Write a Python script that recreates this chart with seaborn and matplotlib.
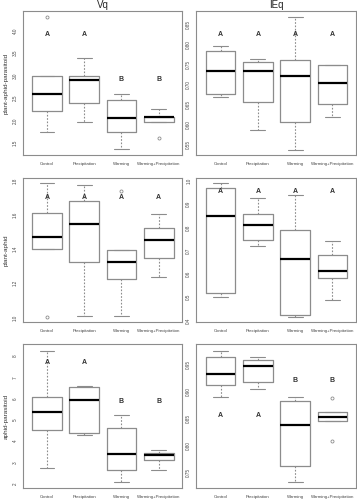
import seaborn as sns
import matplotlib.pyplot as plt
import pandas as pd

# treatment groups
groups = ["Control", "Precipitation", "Warming", "Warming+Precipitation"]

# raw values per group
vq_pap = [
    [1.74, 2.00, 2.21, 2.40, 2.60, 2.85, 3.00, 3.00, 4.30],
    [1.96, 2.20, 2.40, 2.65, 2.90, 2.95, 2.99, 3.20, 3.38],
    [1.37, 1.55, 1.74, 1.90, 2.06, 2.30, 2.46, 2.55, 2.60],
    [1.62, 1.96, 1.96, 2.00, 2.08, 2.08, 2.085, 2.20, 2.25],
]
ieq_pap = [
    [0.668, 0.672, 0.676, 0.700, 0.733, 0.760, 0.783, 0.790, 0.796],
    [0.588, 0.620, 0.656, 0.700, 0.735, 0.745, 0.757, 0.760, 0.764],
    [0.538, 0.570, 0.607, 0.670, 0.722, 0.740, 0.762, 0.820, 0.868],
    [0.619, 0.635, 0.652, 0.680, 0.705, 0.730, 0.749, 0.749, 0.749],
]
vq_pa = [
    [1.000, 1.402, 1.402, 1.440, 1.469, 1.550, 1.614, 1.700, 1.786],
    [1.006, 1.150, 1.322, 1.450, 1.545, 1.620, 1.684, 1.730, 1.773],
    [1.006, 1.120, 1.227, 1.280, 1.322, 1.360, 1.392, 1.392, 1.737],
    [1.237, 1.300, 1.347, 1.400, 1.453, 1.490, 1.524, 1.560, 1.606],
]
ieq_pa = [
    [0.502, 0.510, 0.518, 0.700, 0.850, 0.920, 0.967, 0.980, 0.990],
    [0.718, 0.730, 0.745, 0.780, 0.810, 0.835, 0.859, 0.900, 0.928],
    [0.416, 0.420, 0.424, 0.550, 0.662, 0.730, 0.788, 0.870, 0.940],
    [0.489, 0.540, 0.580, 0.600, 0.614, 0.650, 0.683, 0.710, 0.741],
]
vq_ap = [
    [2.74, 3.60, 4.51, 5.00, 5.36, 5.70, 6.06, 7.20, 8.25],
    [4.31, 4.35, 4.40, 5.20, 5.92, 6.30, 6.53, 6.57, 6.60],
    [2.08, 2.40, 2.65, 3.00, 3.38, 4.00, 4.64, 5.00, 5.24],
    [2.66, 2.90, 3.12, 3.25, 3.33, 3.40, 3.46, 3.52, 3.58],
]
ieq_ap = [
    [0.890, 0.900, 0.911, 0.920, 0.931, 0.950, 0.963, 0.970, 0.974],
    [0.904, 0.910, 0.917, 0.935, 0.947, 0.952, 0.957, 0.960, 0.963],
    [0.732, 0.745, 0.761, 0.800, 0.837, 0.860, 0.882, 0.886, 0.890],
    [0.808, 0.845, 0.845, 0.848, 0.852, 0.856, 0.861, 0.861, 0.888],
]

# significance letters and their heights
letters_pap = ["A", "A", "B", "B"]
letters_pap_y = [3.9, 3.9, 2.92, 2.92]
letters_ieq_pap = ["A", "A", "A", "A"]
letters_ieq_pap_y = [0.824, 0.824, 0.824, 0.824]
letters_pa = ["A", "A", "A", "A"]
letters_pa_y = [1.704, 1.704, 1.704, 1.704]
letters_ieq_pa = ["A", "A", "A", "A"]
letters_ieq_pa_y = [0.954, 0.954, 0.954, 0.954]
letters_ap = ["A", "A", "B", "B"]
letters_ap_y = [7.7, 7.7, 5.88, 5.88]
letters_ieq_ap = ["A", "A", "B", "B"]
letters_ieq_ap_y = [0.855, 0.855, 0.919, 0.919]

# y ticks per panel
yt_pap = ["1.5", "2.0", "2.5", "3.0", "3.5", "4.0"]
yt_ieq_pap = ["0.55", "0.60", "0.65", "0.70", "0.75", "0.80", "0.85"]
yt_pa = ["1.0", "1.2", "1.4", "1.6", "1.8"]
yt_ieq_pa = ["0.4", "0.5", "0.6", "0.7", "0.8", "0.9", "1.0"]
yt_ap = ["2", "3", "4", "5", "6", "7", "8"]
yt_ieq_ap = ["0.75", "0.80", "0.85", "0.90", "0.95"]

sns.set_style("white")
plt.rcParams["font.family"] = ["Liberation Sans", "DejaVu Sans"]

fig = plt.figure(figsize=(3.57, 5.0), dpi=100)

panels = [
    # data, letters, letter y, ylim, yticks, ylabel, title, rect
    (vq_pap, letters_pap, letters_pap_y, (1.24, 4.43), yt_pap,
     "plant-aphid-parasitoid", "Vq", [0.064, 0.690, 0.446, 0.288]),
    (ieq_pap, letters_ieq_pap, letters_ieq_pap_y, (0.525, 0.883), yt_ieq_pap,
     None, "IEq", [0.550, 0.690, 0.447, 0.288]),
    (vq_pa, letters_pa, letters_pa_y, (0.973, 1.816), yt_pa,
     "plant-aphid", None, [0.064, 0.356, 0.446, 0.288]),
    (ieq_pa, letters_ieq_pa, letters_ieq_pa_y, (0.393, 1.012), yt_ieq_pa,
     None, None, [0.550, 0.356, 0.447, 0.288]),
    (vq_ap, letters_ap, letters_ap_y, (1.80, 8.56), yt_ap,
     "aphid-parasitoid", None, [0.064, 0.024, 0.446, 0.288]),
    (ieq_ap, letters_ieq_ap, letters_ieq_ap_y, (0.721, 0.987), yt_ieq_ap,
     None, None, [0.550, 0.024, 0.447, 0.288]),
]

grey = "#8c8c8c"

for data, lets, lets_y, ylim, yticks, ylabel, title, rect in panels:
    ax = fig.add_axes(rect)
    df = pd.DataFrame({
        "group": [g for g, vals in zip(groups, data) for _ in vals],
        "value": [v for vals in data for v in vals],
    })
    sns.boxplot(data=df, x="group", y="value", order=groups, ax=ax,
                fill=False, color=grey, width=0.8, linewidth=0.9,
                medianprops=dict(color="black", linewidth=1.6),
                whiskerprops=dict(color=grey, linestyle=(0, (1.5, 1.5)), linewidth=0.8),
                capprops=dict(color=grey, linewidth=0.8),
                boxprops=dict(color=grey, linewidth=0.9),
                flierprops=dict(marker="o", markersize=2.2, markerfacecolor="none",
                                markeredgecolor=grey, markeredgewidth=0.6))
    for i, (t, y) in enumerate(zip(lets, lets_y)):
        ax.text(i, y, t, ha="center", va="center", fontsize=5,
                fontweight="bold", color="#333333")
    ax.set_xlim(-0.65, 3.63)
    ax.set_ylim(*ylim)
    ax.set_yticks([float(t) for t in yticks])
    ax.set_yticklabels(yticks, rotation=90, va="center", fontsize=3.3, color="#444444")
    ax.set_xticks(range(len(groups)))
    ax.set_xticklabels(groups, fontsize=3.2, color="#444444")
    ax.tick_params(axis="both", length=2.2, width=0.5, color=grey, direction="out")
    ax.tick_params(axis="y", pad=1.5)
    ax.tick_params(axis="x", pad=2.5)
    ax.set_xlabel("")
    ax.set_ylabel(ylabel if ylabel else "", fontsize=4.6, color="#333333", labelpad=3)
    for s in ax.spines.values():
        s.set_color(grey)
        s.set_linewidth(0.8)
    if title:
        ax.set_title(title, fontsize=7, pad=2)

plt.savefig("out.png", dpi=100)
